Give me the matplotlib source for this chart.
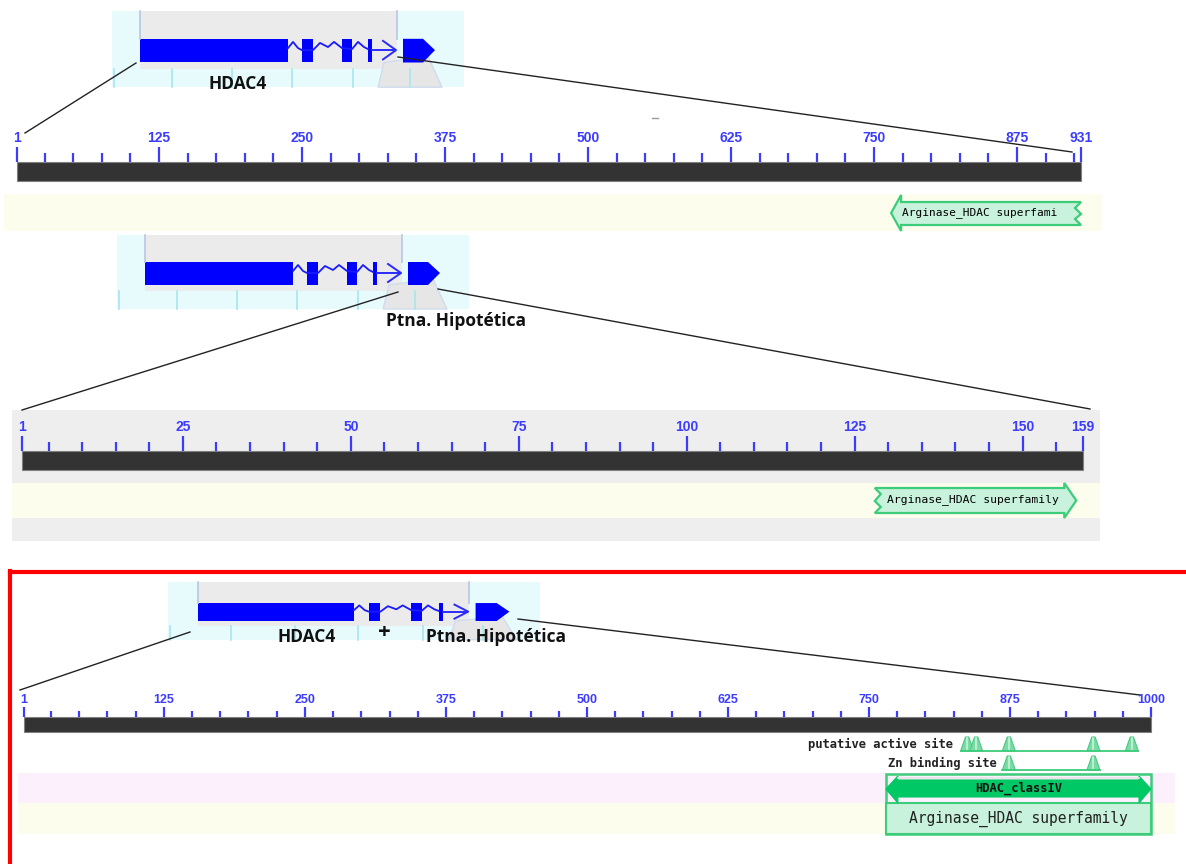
# plot.py
# Figura compuesta: HDAC4, proteina hipotetica y fusion (dominios conservados)

import matplotlib
matplotlib.use("Agg")
import matplotlib.pyplot as plt
from matplotlib.patches import Rectangle, Polygon

# ---------- datos ----------
# panel 1: HDAC4
hdac4_len = 931
hdac4_major = [1, 125, 250, 375, 500, 625, 750, 875, 931]
hdac4_minor_step = 25
hdac4_domain = (765, 931)          # Arginase_HDAC superfamily (truncado a la derecha)
hdac4_domain_label = "Arginase_HDAC superfami"

# panel 2: proteina hipotetica
ptna_len = 159
ptna_major = [1, 25, 50, 75, 100, 125, 150, 159]
ptna_minor_step = 5
ptna_domain = (128, 158)           # truncado a la izquierda
ptna_domain_label = "Arginase_HDAC superfamily"

# panel 3: HDAC4 + ptna. hipotetica
fus_len = 1000
fus_major = [1, 125, 250, 375, 500, 625, 750, 875, 1000]
fus_minor_step = 25
fus_domain = (765, 1000)
fus_specific_label = "HDAC_classIV"
fus_super_label = "Arginase_HDAC superfamily"
active_site = [837, 845, 874, 949, 983]
zn_site = [874, 949]

# ---------- estilo ----------
W, H = 1186, 864
BLUE = "#3c3cff"
BAR = "#333333"
YELLOW = "#fdfdee"
GREY_BOX = "#eeeeee"
PINK = "#fdf0fd"
CYAN = "#e8fbfc"
CYAN_LINE = "#a8e6ef"
G_EDGE = "#3ccc7a"
G_FILL = "#c8f2dc"
G_DARK = "#00c864"
TRI = "#7adba4"
NUM_FONT = ["Liberation Sans", "DejaVu Sans"]
LBL_FONT = ["Open Sans", "DejaVu Sans"]
MONO = "DejaVu Sans Mono"

fig = plt.figure(figsize=(W / 100, H / 100), dpi=100)
bg = fig.add_axes([0, 0, 1, 1])
bg.set_xlim(0, W)
bg.set_ylim(H, 0)
bg.axis("off")


def track_axes(x0, x1, length):
    ax = fig.add_axes([x0 / W, 0, (x1 - x0) / W, 1])
    ax.set_xlim(1, length)
    ax.set_ylim(H, 0)
    ax.axis("off")
    ax.patch.set_visible(False)
    return ax, (x1 - x0) / (length - 1)


def draw_ruler(ax, length, majors, step, y_lab, y_maj, y_min, y0, y1, fs):
    ax.add_patch(Rectangle((1, y0), length - 1, y1 - y0, fc=BAR, ec="#808080",
                           lw=0.8, clip_on=False))
    minors = [p for p in range(step, length, step) if p not in majors]
    ax.vlines(minors, y_min, y0, color=BLUE, lw=1.6, clip_on=False)
    ax.vlines(majors, y_maj, y0, color=BLUE, lw=1.6, clip_on=False)
    for m in majors:
        ax.text(m, y_lab, str(m), ha="center", va="center", fontsize=fs,
                color=BLUE, family=NUM_FONT, fontweight="bold")


def draw_gene(x0, y0, sx, sy):
    # miniatura de la estructura del gen (coordenadas locales de la imagen)
    def P(x, y):
        return (x0 + x * sx, y0 + y * sy)

    def box(xa, xb, ya, yb, **kw):
        bg.add_patch(Rectangle(P(xa, ya), (xb - xa) * sx, (yb - ya) * sy, **kw))

    box(0, 352, 0, 74, fc=CYAN, ec="none")
    box(28, 285, 0, 56, fc="#ebebeb", ec="none")
    for lx in [2, 60, 120, 180, 241, 298]:
        bg.plot(*zip(P(lx, 56), P(lx, 74)), color=CYAN_LINE, lw=1.2)
    for lx in [28, 285]:
        bg.plot(*zip(P(lx, 0), P(lx, 27)), color="#b9c6e2", lw=1.2)
    # lente
    bg.add_patch(Polygon([P(272, 50), P(316, 44), P(330, 74), P(266, 74)],
                         closed=True, fc="#e6e6e6", ec="#d0dcee", lw=1))
    # intrones
    zz = [(176, 36), (181, 30), (186, 36), (190, 38), (201, 38), (208, 31),
          (216, 35), (222, 30), (230, 36), (240, 37), (246, 30), (252, 35), (256, 37)]
    bg.plot(*zip(*[P(a, b) for a, b in zz]), color="#1a1aff", lw=1.3)
    # exones
    box(28, 176, 27, 50, fc="#0000ff", ec="none")
    for a, b in [(190, 201), (230, 240), (256, 260)]:
        box(a, b, 27, 50, fc="#0000ff", ec="none")
    bg.plot(*zip(P(260, 38), P(283, 38)), color="#2a2aff", lw=1.4)
    bg.plot(*zip(P(271, 29), P(284, 38), P(271, 47)), color="#2a2aff", lw=1.4)
    bg.add_patch(Polygon([P(291, 27), P(311, 27), P(323, 38), P(311, 50), P(291, 50)],
                         closed=True, fc="#0000ff", ec="none"))


def label(x, y, s, fs=12.5):
    bg.text(x, y, s, ha="center", va="center", fontsize=fs, fontweight="bold",
            family=LBL_FONT, color="#111111")


# ================= panel 1 =================
draw_gene(112, 11, 1.0, 1.03)
label(238, 84, "HDAC4")
bg.plot([136, 25], [63, 133], color="#222222", lw=1)
bg.plot([398, 1072], [57, 152], color="#222222", lw=1)
bg.plot([652, 658], [118, 118], color="#999999", lw=1)
bg.add_patch(Rectangle((4, 194), 1098, 37, fc=YELLOW, ec="none"))

ax1, ppu1 = track_axes(17.1, 1081, hdac4_len)
draw_ruler(ax1, hdac4_len, hdac4_major, hdac4_minor_step, 138, 147, 153, 162, 181, 10)
s, e = hdac4_domain
hl, z = 10 / ppu1, 6 / ppu1
ax1.add_patch(Polygon([(s, 213), (s + hl, 195), (s + hl, 202), (e, 202), (e - z, 208),
                       (e, 214), (e - z, 219), (e, 225), (s + hl, 225), (s + hl, 231)],
                      closed=True, fc=G_FILL, ec=G_EDGE, lw=1.6, clip_on=False))
ax1.text(s + 11 / ppu1, 213, hdac4_domain_label, ha="left", va="center",
         fontsize=8, family=MONO, color="#000000")

# ================= panel 2 =================
bg.add_patch(Rectangle((12, 410), 1088, 73, fc=GREY_BOX, ec="none"))
bg.add_patch(Rectangle((12, 483), 1088, 35, fc=YELLOW, ec="none"))
bg.add_patch(Rectangle((12, 518), 1088, 23, fc=GREY_BOX, ec="none"))
draw_gene(117, 235, 1.0, 1.0)
label(456, 321, "Ptna. Hipotética")
bg.plot([398, 22], [292, 410], color="#222222", lw=1)
bg.plot([438, 1090], [289, 409], color="#222222", lw=1)

ax2, ppu2 = track_axes(21.7, 1083, ptna_len)
draw_ruler(ax2, ptna_len, ptna_major, ptna_minor_step, 427, 436, 442, 451, 470, 10)
s, e = ptna_domain
hl, z = 12 / ppu2, 6 / ppu2
ax2.add_patch(Polygon([(s, 488), (e - hl, 488), (e - hl, 483), (e, 500.5), (e - hl, 518),
                       (e - hl, 513), (s, 513), (s + z, 507), (s, 501), (s + z, 494)],
                      closed=True, fc=G_FILL, ec=G_EDGE, lw=1.6, clip_on=False))
ax2.text(s + 12 / ppu2, 500, ptna_domain_label, ha="left", va="center",
         fontsize=8.2, family=MONO, color="#000000")

# ================= panel 3 =================
bg.plot([10, W + 5], [572, 572], color="#ff0000", lw=3)
bg.plot([10, 10], [571, H + 5], color="#ff0000", lw=3)
draw_gene(168, 582, 1.057, 0.78)
label(307, 637, "HDAC4")
label(384, 632, "+", fs=16)
label(496, 637, "Ptna. Hipotética")
bg.plot([190, 20], [632, 690], color="#222222", lw=1)
bg.plot([518, 1140], [619, 695], color="#222222", lw=1)
bg.add_patch(Rectangle((18, 773), 1157, 30, fc=PINK, ec="none"))
bg.add_patch(Rectangle((18, 803), 1157, 31, fc=YELLOW, ec="none"))

ax3, ppu3 = track_axes(24, 1151, fus_len)
draw_ruler(ax3, fus_len, fus_major, fus_minor_step, 700, 707, 711, 717, 732, 9)

# sitios: triangulos sobre una linea base
tw = 6.5 / ppu3
for sites, ybase, lab, xlab in [(active_site, 751, "putative active site", 953),
                                (zn_site, 770, "Zn binding site", 997)]:
    ax3.plot([min(sites) - tw, max(sites) + tw], [ybase, ybase], color=G_EDGE,
             lw=1.3, clip_on=False)
    for p in sites:
        ax3.add_patch(Polygon([(p - tw, ybase), (p - tw * 0.25, ybase - 14),
                               (p + tw * 0.25, ybase - 14), (p + tw, ybase)],
                              closed=True, fc=TRI, ec="#4cc884", lw=0.8, clip_on=False))
        ax3.plot([p, p], [ybase - 13, ybase - 2], color="#c8f5dc", lw=1.2, clip_on=False)
    bg.text(xlab, ybase - 7, lab, ha="right", va="center", fontsize=8.7,
            family=MONO, fontweight="bold", color="#222222")

s, e = fus_domain
hl = 12 / ppu3
ax3.add_patch(Rectangle((s, 774), e - s, 60, fc="none", ec=G_EDGE, lw=1.8, clip_on=False))
ax3.add_patch(Rectangle((s, 803), e - s, 31, fc=G_FILL, ec=G_EDGE, lw=1.5, clip_on=False))
ax3.add_patch(Polygon([(s, 789), (s + hl, 776), (s + hl, 780), (e - hl, 780), (e - hl, 776),
                       (e, 789), (e - hl, 803), (e - hl, 797), (s + hl, 797), (s + hl, 803)],
                      closed=True, fc=G_DARK, ec=G_DARK, lw=0.8, clip_on=False))
ax3.plot([s + hl, e - hl], [777.5, 777.5], color="#e4e4e4", lw=1.2, clip_on=False)
ax3.text((s + e) / 2, 788.5, fus_specific_label, ha="center", va="center",
         fontsize=8.7, family=MONO, fontweight="bold", color="#111111")
ax3.text((s + e) / 2, 818.5, fus_super_label, ha="center", va="center",
         fontsize=10.5, family=MONO, color="#222222")

fig.savefig("out.png", dpi=100)
